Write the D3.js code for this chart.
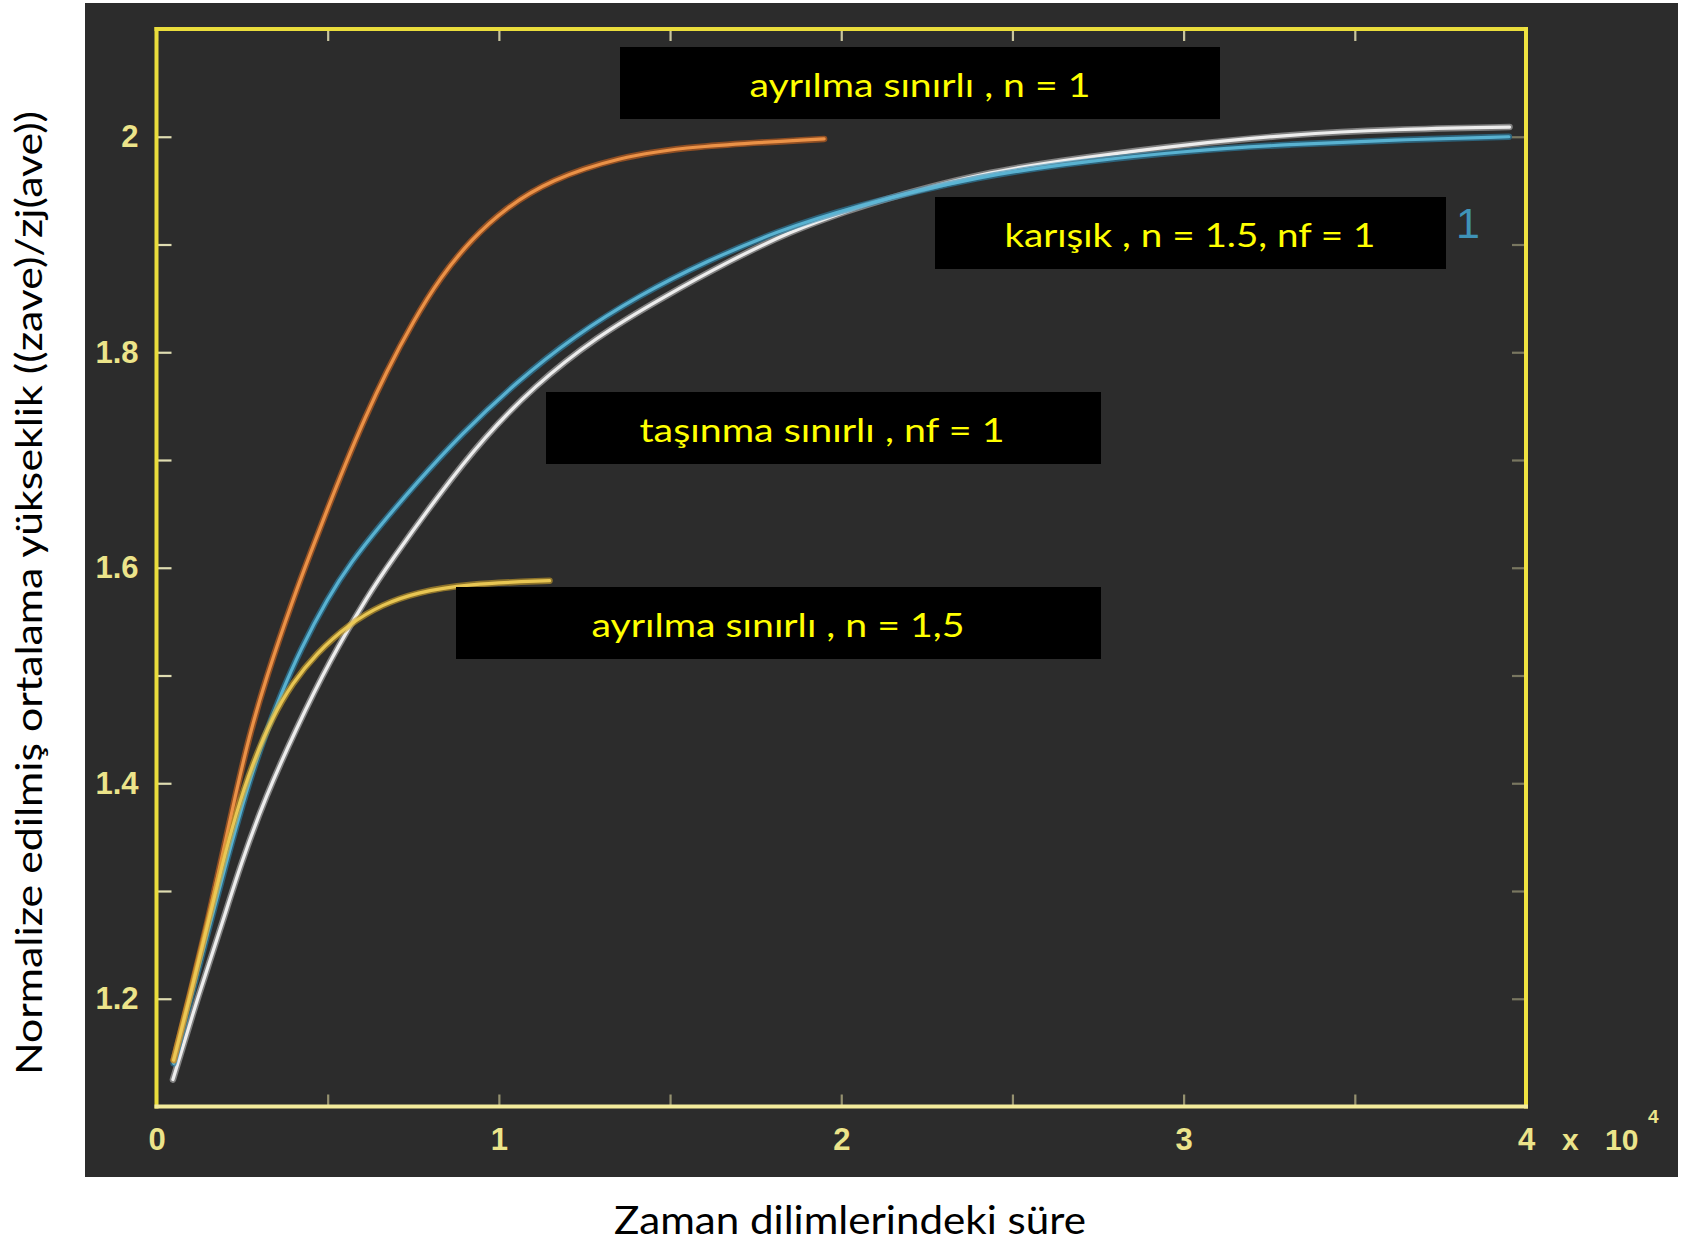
<!DOCTYPE html>
<html>
<head>
<meta charset="utf-8">
<script src="https://cdn.jsdelivr.net/npm/d3@7"></script>
<style>
  html, body { margin: 0; padding: 0; background: #ffffff; }
  svg { display: block; }
</style>
</head>
<body>
<svg id="chart" width="1682" height="1244"></svg>
<script>
// ---- Data: time step vs. normalised mean elevation ----
// Detachment limited, n = 1
const ayrilmaN1Steps = [500, 1000, 1500, 1900, 2300, 2700, 3200, 4000, 4500, 5000, 5500, 6100, 6700, 7500, 8300, 9200, 10200, 11500, 13500, 15500, 19500];
const ayrilmaN1Z     = [1.143, 1.207, 1.272, 1.330, 1.388, 1.443, 1.498, 1.572, 1.614, 1.655, 1.695, 1.740, 1.781, 1.829, 1.870, 1.905, 1.934, 1.960, 1.981, 1.991, 1.998];

// Mixed, n = 1.5, nf = 1
const karisikSteps = [500, 1000, 1500, 2000, 2400, 2800, 3200, 3600, 4200, 5000, 5700, 6500, 7600, 8900, 10500, 12200, 14100, 16100, 18100, 20300, 24100, 27100, 30100, 33100, 36100, 39500];
const karisikZ     = [1.140, 1.200, 1.262, 1.322, 1.368, 1.410, 1.447, 1.480, 1.524, 1.572, 1.606, 1.638, 1.679, 1.724, 1.772, 1.815, 1.853, 1.885, 1.912, 1.935, 1.964, 1.977, 1.987, 1.993, 1.997, 2.000];

// Transport limited, nf = 1
const tasinmaSteps = [480, 1240, 1870, 2460, 3190, 4070, 5040, 6210, 6800, 8270, 9570, 11010, 12830, 14790, 16750, 18500, 20260, 21150, 24130, 27130, 30120, 33110, 36110, 39520];
const tasinmaZ     = [1.125, 1.205, 1.265, 1.325, 1.388, 1.450, 1.513, 1.576, 1.604, 1.669, 1.721, 1.768, 1.814, 1.851, 1.885, 1.912, 1.932, 1.941, 1.967, 1.981, 1.993, 2.002, 2.007, 2.009];

// Detachment limited, n = 1,5
const ayrilmaN15Steps = [500, 1000, 1480, 1900, 2320, 2800, 3380, 3970, 4650, 5630, 6600, 7580, 9040, 11480];
const ayrilmaN15Z     = [1.143, 1.205, 1.267, 1.322, 1.372, 1.418, 1.461, 1.493, 1.520, 1.548, 1.566, 1.577, 1.585, 1.588];

// Axis ticks and labels
const xTickValues = [0, 10000, 20000, 30000, 40000];
const xTickLabels = ["0", "1", "2", "3", "4"];
const xMinorTicks = [0, 5000, 10000, 15000, 20000, 25000, 30000, 35000, 40000];
const yTickValues = [1.2, 1.4, 1.6, 1.8, 2.0];
const yTickLabels = ["1.2", "1.4", "1.6", "1.8", "2"];
const yMinorTicks = [1.2, 1.3, 1.4, 1.5, 1.6, 1.7, 1.8, 1.9, 2.0];

// Texts
const noteTexts = [
  "ayrılma sınırlı , n = 1",
  "karışık , n = 1.5, nf = 1",
  "taşınma sınırlı , nf = 1",
  "ayrılma sınırlı , n = 1,5"
];
const xAxisTitle = "Zaman dilimlerindeki süre";
const yAxisTitle = "Normalize edilmiş ortalama yükseklik ((zave)/zj(ave))";
const runMarker = "1";

// ---- Layout ----
const svg = d3.select("#chart");
const frame = { left: 156.5, right: 1526, top: 29, bottom: 1106.5 };

const x = d3.scaleLinear().domain([0, 40000]).range([frame.left, frame.right]);
const y = d3.scaleLinear().domain([1.1, 2.1]).range([frame.bottom, frame.top]);

// dark figure panel
svg.append("rect")
  .attr("x", 85).attr("y", 3).attr("width", 1593).attr("height", 1174)
  .attr("fill", "#2c2c2c");

const tickFont = "'Liberation Sans', Arial, sans-serif";
const tickColor = "#ece48a";

function fmtY(d) {
  const i = yTickValues.findIndex(v => Math.abs(v - d) < 1e-6);
  return i >= 0 ? yTickLabels[i] : "";
}
function fmtX(d) {
  const i = xTickValues.findIndex(v => Math.abs(v - d) < 1e-6);
  return i >= 0 ? xTickLabels[i] : "";
}

function styleAxis(g, tickStroke, opacity) {
  g.select(".domain").remove();
  g.selectAll(".tick line").attr("stroke", tickStroke).attr("stroke-width", 2.2).attr("opacity", opacity);
  g.selectAll(".tick text")
    .attr("fill", tickColor)
    .style("font-family", tickFont)
    .style("font-weight", "bold");
}

// bottom axis
const gBottom = svg.append("g")
  .attr("transform", `translate(0,${frame.bottom})`)
  .call(d3.axisBottom(x).tickValues(xMinorTicks).tickSize(-12).tickPadding(21).tickFormat(fmtX));
styleAxis(gBottom, "#ece6a8", 0.55);
gBottom.selectAll(".tick text").style("font-size", "31px");

// top axis
const gTop = svg.append("g")
  .attr("transform", `translate(0,${frame.top})`)
  .call(d3.axisTop(x).tickValues(xMinorTicks).tickSize(-12).tickFormat(""));
styleAxis(gTop, "#f1ecbc", 0.8);

// left axis
const gLeft = svg.append("g")
  .attr("transform", `translate(${frame.left},0)`)
  .call(d3.axisLeft(y).tickValues(yMinorTicks).tickSize(-15).tickPadding(18).tickFormat(fmtY));
styleAxis(gLeft, "#f3efc0", 0.9);
gLeft.selectAll(".tick text").style("font-size", "31px");

// right axis
const gRight = svg.append("g")
  .attr("transform", `translate(${frame.right},0)`)
  .call(d3.axisRight(y).tickValues(yMinorTicks).tickSize(-14).tickFormat(""));
styleAxis(gRight, "#d8d3a0", 0.45);

// axes frame
const frameG = svg.append("g").attr("fill", "none").attr("stroke-width", 4).attr("stroke-linecap", "square");
frameG.append("line").attr("x1", x(0)).attr("x2", x(40000)).attr("y1", y(2.1)).attr("y2", y(2.1)).attr("stroke", "#eadd3c");
frameG.append("line").attr("x1", x(0)).attr("x2", x(0)).attr("y1", y(2.1)).attr("y2", y(1.1)).attr("stroke", "#eadd3c");
frameG.append("line").attr("x1", x(40000)).attr("x2", x(40000)).attr("y1", y(2.1)).attr("y2", y(1.1)).attr("stroke", "#efe240");
frameG.append("line").attr("x1", x(0)).attr("x2", x(40000)).attr("y1", y(1.1)).attr("y2", y(1.1)).attr("stroke", "#f3eb9c");

// exponent marker next to the last x tick
const expo = svg.append("text")
  .attr("x", 1562).attr("y", 1150)
  .attr("fill", tickColor)
  .style("font-family", tickFont)
  .style("font-weight", "bold")
  .style("font-size", "30px");
expo.append("tspan").text("x");
expo.append("tspan").attr("x", 1605).text("10");
expo.append("tspan").attr("x", 1648).attr("dy", -27).style("font-size", "19px").text("4");

// ---- Curves ----
const zip = (a, b) => a.map((v, i) => [v, b[i]]);
const line = d3.line().x(d => x(d[0])).y(d => y(d[1])).curve(d3.curveBasis);

const series = [
  { pts: zip(tasinmaSteps, tasinmaZ),       outer: "#b9b9b9", inner: "#f2f2f2" },
  { pts: zip(karisikSteps, karisikZ),       outer: "#2d88b0", inner: "#5cb6d6" },
  { pts: zip(ayrilmaN1Steps, ayrilmaN1Z),   outer: "#d2651e", inner: "#f0964a" },
  { pts: zip(ayrilmaN15Steps, ayrilmaN15Z), outer: "#cfa42c", inner: "#edca55" }
];

const curves = svg.append("g").attr("fill", "none").attr("stroke-linecap", "round").attr("stroke-linejoin", "round");
series.forEach(s => {
  curves.append("path").attr("d", line(s.pts)).attr("stroke", s.outer).attr("stroke-width", 6.5).attr("stroke-opacity", 0.6);
  curves.append("path").attr("d", line(s.pts)).attr("stroke", s.inner).attr("stroke-width", 3.2).attr("stroke-opacity", 0.95);
});

// run index marker in the curve colour
svg.append("text")
  .attr("x", 1468).attr("y", 238)
  .attr("text-anchor", "middle")
  .attr("fill", "#3f93b8")
  .style("font-family", tickFont)
  .style("font-size", "43px")
  .text(runMarker);

// ---- Annotation boxes ----
const noteFont = "Lato, 'Open Sans', sans-serif";
const noteBoxes = [
  { x0: 620, x1: 1220, y0: 47,  cx: 920,  w: 341 },
  { x0: 935, x1: 1446, y0: 197, cx: 1190, w: 371 },
  { x0: 546, x1: 1101, y0: 392, cx: 822,  w: 365 },
  { x0: 456, x1: 1101, y0: 587, cx: 778,  w: 373 }
];
const notes = svg.append("g");
noteBoxes.forEach((b, i) => {
  notes.append("rect")
    .attr("x", b.x0).attr("y", b.y0).attr("width", b.x1 - b.x0).attr("height", 72)
    .attr("fill", "#000000");
  notes.append("text")
    .attr("x", b.cx - b.w / 2).attr("y", b.y0 + 50)
    .attr("textLength", b.w).attr("lengthAdjust", "spacingAndGlyphs")
    .attr("fill", "#ffff00")
    .style("font-family", noteFont)
    .style("font-size", "33px")
    .text(noteTexts[i]);
});

// ---- Axis titles ----
svg.append("text")
  .attr("x", 850 - 236).attr("y", 1234)
  .attr("textLength", 472).attr("lengthAdjust", "spacingAndGlyphs")
  .attr("fill", "#000000")
  .style("font-family", noteFont)
  .style("font-size", "39px")
  .text(xAxisTitle);

svg.append("text")
  .attr("transform", "translate(42,593) rotate(-90)")
  .attr("x", -482).attr("y", 0)
  .attr("textLength", 964).attr("lengthAdjust", "spacingAndGlyphs")
  .attr("fill", "#000000")
  .style("font-family", noteFont)
  .style("font-size", "37px")
  .text(yAxisTitle);
</script>
</body>
</html>
